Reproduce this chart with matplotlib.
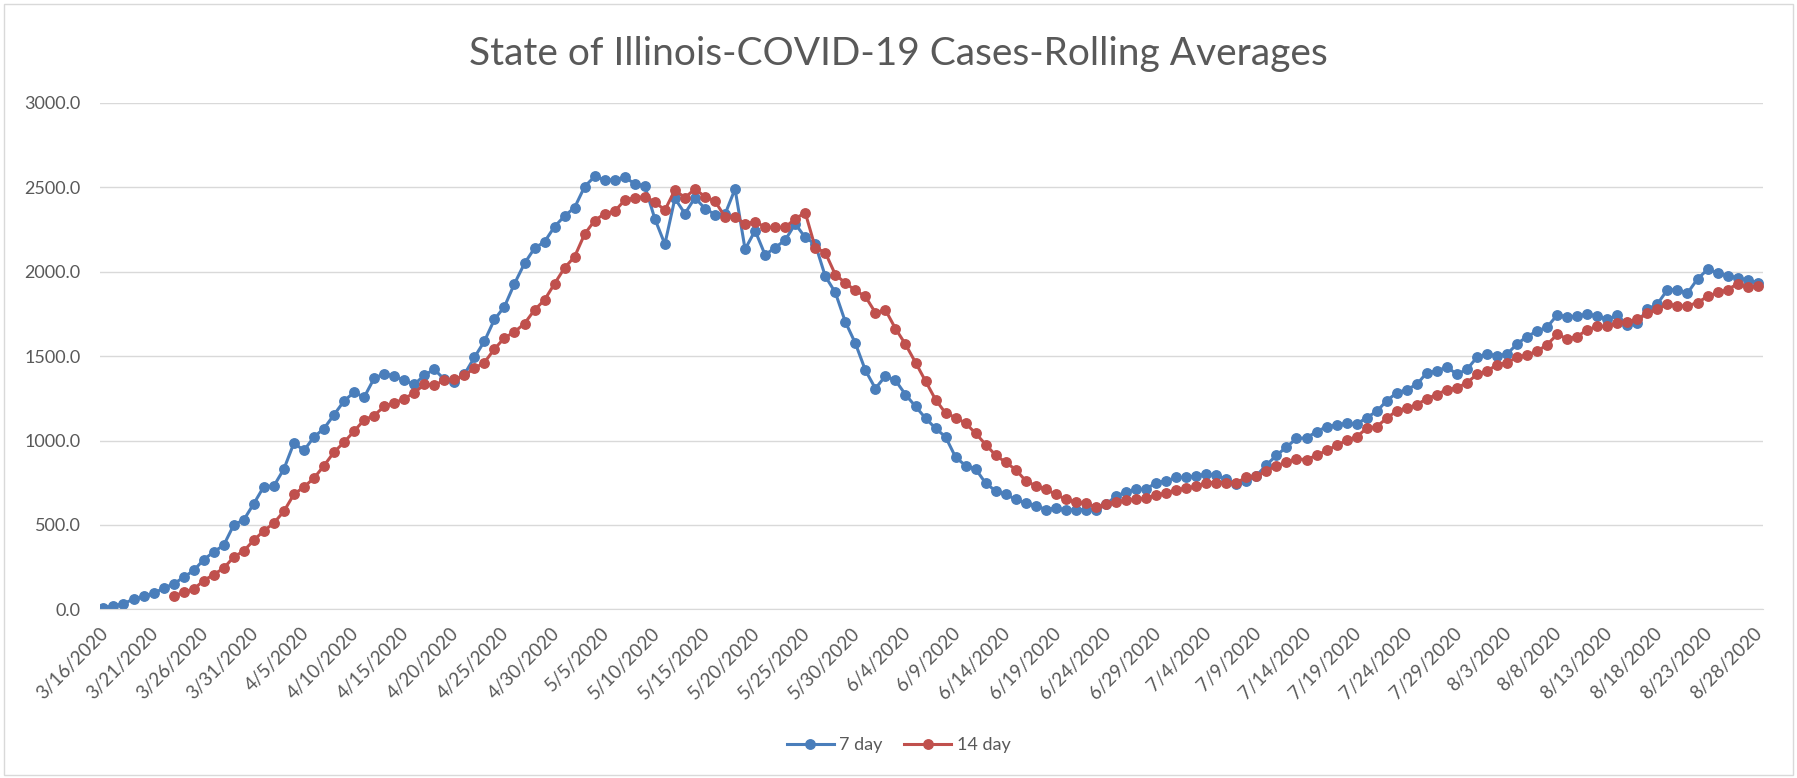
import numpy as np
import pandas as pd
import matplotlib
matplotlib.use("Agg")
import matplotlib.pyplot as plt
from matplotlib.patches import Rectangle
from matplotlib.transforms import ScaledTranslation

plt.rcParams['font.family'] = ['Lato', 'DejaVu Sans']

# daily dates shown on the category axis
dates = pd.date_range("2020-03-16", "2020-08-28", freq="D")

# 7 day rolling average of new cases
seven_day = [
    10, 20, 34, 60, 76, 94, 126, 150, 190, 230,
    294, 340, 380, 500, 530, 626, 727, 731, 831, 985,
    941, 1021, 1071, 1152, 1234, 1286, 1256, 1368, 1396, 1382,
    1356, 1332, 1386, 1422, 1362, 1348, 1392, 1492, 1588, 1717,
    1793, 1929, 2049, 2139, 2177, 2267, 2330, 2380, 2504, 2564,
    2544, 2544, 2560, 2520, 2508, 2313, 2163, 2434, 2344, 2438,
    2374, 2338, 2340, 2490, 2133, 2243, 2099, 2143, 2187, 2283,
    2203, 2163, 1973, 1877, 1703, 1576, 1416, 1308, 1382, 1356,
    1272, 1202, 1132, 1072, 1021, 901, 851, 831, 747, 701,
    681, 651, 627, 615, 591, 601, 587, 591, 591, 587,
    621, 671, 695, 711, 711, 751, 761, 781, 781, 791,
    801, 795, 771, 741, 761, 791, 855, 912, 961, 1012,
    1016, 1052, 1082, 1092, 1102, 1096, 1136, 1172, 1236, 1282,
    1302, 1332, 1402, 1412, 1436, 1392, 1422, 1492, 1512, 1502,
    1512, 1572, 1616, 1648, 1672, 1743, 1733, 1737, 1749, 1737,
    1717, 1743, 1683, 1697, 1777, 1809, 1893, 1893, 1873, 1957,
    2013, 1993, 1977, 1963, 1949, 1933,
]

# 14 day rolling average, first value on 3/23/2020
fourteen_day = [np.nan] * 7 + [
    80, 100, 120, 170, 206, 244, 310, 346, 410, 465,
    511, 581, 681, 725, 777, 851, 931, 990, 1055, 1122,
    1148, 1202, 1222, 1248, 1282, 1332, 1328, 1356, 1362, 1386,
    1428, 1462, 1542, 1608, 1643, 1693, 1773, 1833, 1929, 2023,
    2089, 2223, 2303, 2344, 2358, 2424, 2438, 2444, 2414, 2364,
    2484, 2438, 2490, 2444, 2418, 2324, 2324, 2283, 2297, 2263,
    2263, 2263, 2313, 2350, 2143, 2113, 1983, 1933, 1889, 1853,
    1757, 1773, 1663, 1570, 1462, 1352, 1242, 1162, 1136, 1102,
    1042, 976, 912, 871, 827, 761, 731, 711, 681, 651,
    635, 627, 607, 621, 635, 647, 651, 661, 675, 691,
    707, 718, 728, 751, 751, 751, 751, 781, 787, 821,
    851, 871, 891, 887, 912, 941, 971, 1002, 1022, 1072,
    1082, 1132, 1176, 1192, 1212, 1248, 1272, 1302, 1312, 1342,
    1392, 1412, 1448, 1462, 1492, 1508, 1528, 1568, 1628, 1603,
    1616, 1656, 1676, 1676, 1697, 1703, 1717, 1753, 1777, 1809,
    1797, 1797, 1817, 1853, 1877, 1893, 1929, 1909, 1913,
]

yticks = [0, 500, 1000, 1500, 2000, 2500, 3000]

txt = '#595959'
grid = '#D9D9D9'

fig = plt.figure(figsize=(17.97, 7.78), dpi=100)
ax = fig.add_axes([0.0557, 0.2168, 0.9252, 0.651])

ax.plot(dates, seven_day, '-o', color='#4A7EBB', lw=2.2, ms=6.8, label='7 day')
ax.plot(dates, fourteen_day, '-o', color='#C0504D', lw=2.2, ms=6.8, label='14 day')

ax.set_ylim(0, 3000)
ax.set_yticks(yticks)
ax.set_yticklabels(["%.1f" % v for v in yticks])
ax.set_xlim(dates[0] - pd.Timedelta(hours=8), dates[-1] + pd.Timedelta(hours=12))
ax.set_xticks(dates[::5])
ax.set_xticklabels([f"{d.month}/{d.day}/{d.year}" for d in dates[::5]])

ax.grid(visible=True, which='major', axis='y', color=grid, lw=1)
ax.set_axisbelow(True)
for s in ['left', 'right', 'top']:
    ax.spines[s].set_visible(False)
ax.spines['bottom'].set_color(grid)
ax.tick_params(axis='both', length=0, labelcolor=txt)
ax.tick_params(axis='y', pad=14, labelsize=13)
ax.tick_params(axis='x', pad=15, labelsize=13.5)

offset = ScaledTranslation(0.02, 0, fig.dpi_scale_trans)
for lab in ax.get_xticklabels():
    lab.set_rotation(45)
    lab.set_ha('right')
    lab.set_va('center')
    lab.set_rotation_mode('anchor')
    lab.set_transform(lab.get_transform() + offset)

fig.text(0.5, 0.93, "State of Illinois-COVID-19 Cases-Rolling Averages",
         ha='center', va='center', fontsize=28, color=txt)

fig.legend(loc='center', bbox_to_anchor=(0.5, 0.042), ncol=2, frameon=False,
           handlelength=2.6, handletextpad=0.3, columnspacing=1.2,
           fontsize=13, labelcolor=txt)

fig.patches.append(Rectangle((0.002, 0.004), 0.996, 0.991, transform=fig.transFigure,
                             fill=False, ec=grid, lw=1))

fig.savefig("out.png", dpi=100)
plt.close(fig)
